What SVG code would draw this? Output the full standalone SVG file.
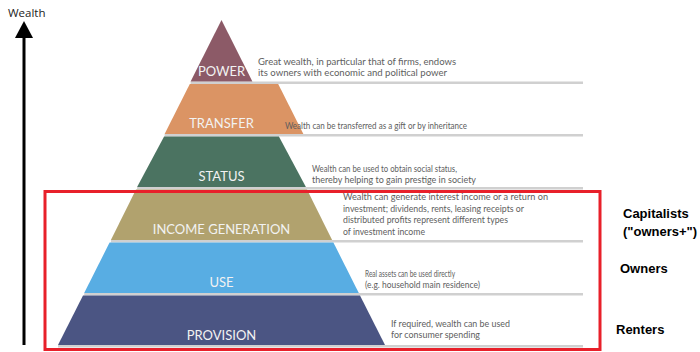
<svg xmlns="http://www.w3.org/2000/svg" width="700" height="352" viewBox="0 0 700 352">
  <defs>
    <marker id="arrowhead" markerUnits="userSpaceOnUse" markerWidth="20" markerHeight="18" refX="0" refY="9" orient="auto">
      <polygon points="0,0 17,9 0,18" fill="#000"/>
    </marker>
  </defs>
  <style>
    .layer-label { font-family: Lato, "Open Sans", sans-serif; font-size: 13px; fill: #f2f2f2; text-anchor: middle; }
    .desc { font-family: Lato, "Open Sans", sans-serif; font-size: 9.5px; fill: #5e5e5e; }
    .desc.small { font-size: 9px; }
    .sep { fill: #d0d0d0; }
    .side { font-family: "Liberation Sans", Arial, sans-serif; font-size: 13px; font-weight: bold; fill: #000; }
  </style>
  <rect width="700" height="352" fill="#fff"/>

  <!-- vertical wealth axis -->
  <g id="axis">
    <line x1="24" y1="345" x2="24" y2="38" stroke="#000" stroke-width="3" marker-end="url(#arrowhead)"/>
    <text x="8" y="17" font-family="'Open Sans', 'Liberation Sans', sans-serif" font-size="11.5" fill="#222">Wealth</text>
  </g>

  <!-- separator bars between layers, running out under the descriptions -->
  <g id="separators">
    <rect class="sep" x="190.6" y="81.5" width="392.4" height="2.5"/>
    <rect class="sep" x="164.6" y="134" width="418.4" height="2.5"/>
    <rect class="sep" x="137.1" y="187" width="445.9" height="2.5"/>
    <rect class="sep" x="110.9" y="240" width="472.1" height="2.5"/>
    <rect class="sep" x="84.2" y="293" width="498.8" height="2.5"/>
    <rect class="sep" x="58" y="345" width="525" height="2.5"/>
  </g>

  <g id="power">
    <polygon points="221.5,20 252.4,81.5 190.6,81.5" fill="#8c5a67"/>
    <text class="layer-label" x="221.5" y="76">POWER</text>
    <text class="desc" x="258" y="65" textLength="198" lengthAdjust="spacingAndGlyphs">Great wealth, in particular that of firms, endows</text>
    <text class="desc" x="258" y="76" textLength="189" lengthAdjust="spacingAndGlyphs">its owners with economic and political power</text>
  </g>

  <g id="transfer">
    <polygon points="189.8,84 278.2,84 303.4,134 164.6,134" fill="#db9464"/>
    <text class="layer-label" x="221.5" y="128">TRANSFER</text>
    <text class="desc small" x="285" y="129" textLength="182" lengthAdjust="spacingAndGlyphs">Wealth can be transferred as a gift or by inheritance</text>
  </g>

  <g id="status">
    <polygon points="164.1,136.5 278.9,136.5 305.9,187 137.1,187" fill="#4b7361"/>
    <text class="layer-label" x="221.5" y="181">STATUS</text>
    <text class="desc small" x="312" y="172" textLength="145" lengthAdjust="spacingAndGlyphs">Wealth can be used to obtain social status,</text>
    <text class="desc small" x="312" y="183" textLength="164" lengthAdjust="spacingAndGlyphs">thereby helping to gain prestige in society</text>
  </g>

  <g id="income-generation">
    <polygon points="136.0,189.5 307.0,189.5 332.1,240 110.9,240" fill="#b1a26e"/>
    <text class="layer-label" x="221.5" y="234">INCOME GENERATION</text>
    <text class="desc" x="343" y="200" textLength="205" lengthAdjust="spacingAndGlyphs">Wealth can generate interest income or a return on</text>
    <text class="desc" x="343" y="211.5" textLength="181" lengthAdjust="spacingAndGlyphs">investment; dividends, rents, leasing receipts or</text>
    <text class="desc" x="343" y="223" textLength="165" lengthAdjust="spacingAndGlyphs">distributed profits represent different types</text>
    <text class="desc" x="343" y="234.5" textLength="82" lengthAdjust="spacingAndGlyphs">of investment income</text>
  </g>

  <g id="use">
    <polygon points="109.6,242.5 333.4,242.5 358.8,293 84.2,293" fill="#58ade3"/>
    <text class="layer-label" x="221.5" y="287">USE</text>
    <text class="desc small" x="365" y="277" textLength="90" lengthAdjust="spacingAndGlyphs">Real assets can be used directly</text>
    <text class="desc small" x="365" y="288" textLength="115" lengthAdjust="spacingAndGlyphs">(e.g. household main residence)</text>
  </g>

  <g id="provision">
    <polygon points="83.0,295.5 360.0,295.5 385.0,345 58.0,345" fill="#4b5583"/>
    <text class="layer-label" x="221.5" y="340">PROVISION</text>
    <text class="desc" x="391" y="327" textLength="119" lengthAdjust="spacingAndGlyphs">If required, wealth can be used</text>
    <text class="desc" x="391" y="338" textLength="89" lengthAdjust="spacingAndGlyphs">for consumer spending</text>
  </g>

  <!-- highlight around the lower three layers -->
  <g id="highlight">
    <rect x="45" y="191.5" width="555" height="158" fill="none" stroke="#e8202a" stroke-width="3"/>
  </g>

  <g id="classes">
    <text class="side" x="623" y="218">Capitalists</text>
    <text class="side" x="623" y="236">("owners+")</text>
    <text class="side" x="620" y="273">Owners</text>
    <text class="side" x="616" y="334">Renters</text>
  </g>
</svg>
